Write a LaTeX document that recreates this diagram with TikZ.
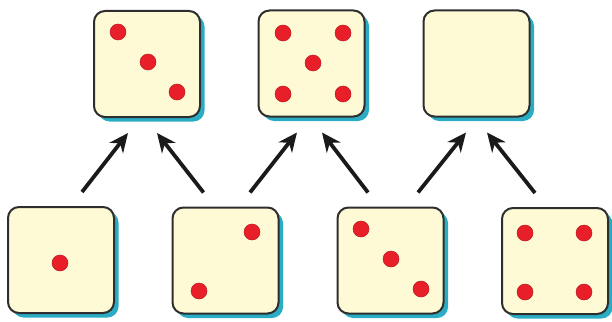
\documentclass[tikz,border=0pt]{standalone}
\usetikzlibrary{arrows.meta,shadows}
\definecolor{diefill}{HTML}{FFFAD6}
\definecolor{dieedge}{HTML}{2E2E2E}
\definecolor{dieshadow}{HTML}{2AADC4}
\definecolor{pipred}{HTML}{E81E28}
\definecolor{arrowc}{HTML}{1A1A1A}
\tikzset{
  die/.style={draw=dieedge, line width=2pt, fill=diefill, rounded corners=11pt,
    minimum width=106pt, minimum height=106pt, inner sep=0pt,
    drop shadow={shadow xshift=4.5pt, shadow yshift=-4.5pt, fill=dieshadow, opacity=1}},
  pip/.style={fill=pipred, draw=pipred!80!black, line width=0.5pt},
  arr/.style={draw=arrowc, line width=3.8pt, -{Stealth[length=19pt,width=17pt,inset=6pt]}}
}
\begin{document}
\begin{tikzpicture}[x=1pt,y=-1pt]
\useasboundingbox (0,0) rectangle (612,321);
% top dice
\node[die] (t1) at (147,64) {};
\node[die] (t2) at (311.5,63.5) {};
\node[die] (t3) at (476.5,63.5) {};
% bottom dice
\node[die] (b1) at (61,260) {};
\node[die] (b2) at (225.5,260.5) {};
\node[die] (b3) at (390.5,260.5) {};
\node[die] (b4) at (555,261) {};
% pips
\def\r{8}
\fill[pip] ([shift={(-29,-32)}]t1.center) circle (\r);
\fill[pip] ([shift={(1,-2)}]t1.center) circle (\r);
\fill[pip] ([shift={(30,28)}]t1.center) circle (\r);
\fill[pip] ([shift={(-28.5,-30.5)}]t2.center) circle (\r);
\fill[pip] ([shift={(31.5,-30.5)}]t2.center) circle (\r);
\fill[pip] ([shift={(1.5,-0.5)}]t2.center) circle (\r);
\fill[pip] ([shift={(-28.5,30.5)}]t2.center) circle (\r);
\fill[pip] ([shift={(31.5,30.5)}]t2.center) circle (\r);
\fill[pip] ([shift={(-1,3)}]b1.center) circle (\r);
\fill[pip] ([shift={(26.5,-28.5)}]b2.center) circle (\r);
\fill[pip] ([shift={(-26.5,30.5)}]b2.center) circle (\r);
\fill[pip] ([shift={(-29.5,-31.5)}]b3.center) circle (\r);
\fill[pip] ([shift={(0.5,-1.5)}]b3.center) circle (\r);
\fill[pip] ([shift={(30.5,28.5)}]b3.center) circle (\r);
\fill[pip] ([shift={(-30,-28)}]b4.center) circle (\r);
\fill[pip] ([shift={(29,-28)}]b4.center) circle (\r);
\fill[pip] ([shift={(-30,31)}]b4.center) circle (\r);
\fill[pip] ([shift={(29,31)}]b4.center) circle (\r);
% arrows
\draw[arr] ([shift={(21,-14)}]b1.north) -- ([shift={(-19,15)}]t1.south);
\draw[arr] ([shift={(-22,-14)}]b2.north) -- ([shift={(10,15)}]t1.south);
\draw[arr] ([shift={(24.5,-14)}]b2.north) -- ([shift={(-14.5,15)}]t2.south);
\draw[arr] ([shift={(-22.5,-14)}]b3.north) -- ([shift={(10.5,15)}]t2.south);
\draw[arr] ([shift={(27.5,-14)}]b3.north) -- ([shift={(-10.5,15)}]t3.south);
\draw[arr] ([shift={(-20,-14)}]b4.north) -- ([shift={(10.5,15)}]t3.south);
\end{tikzpicture}
\end{document}
